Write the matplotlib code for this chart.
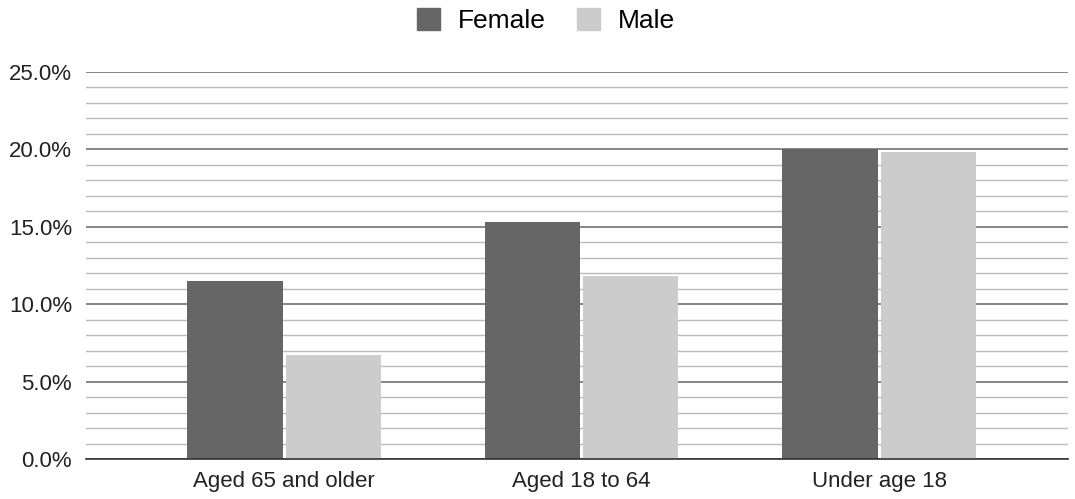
import matplotlib.pyplot as plt
from matplotlib.ticker import MultipleLocator, PercentFormatter
from matplotlib.patches import Patch
import numpy as np

plt.rcParams['font.family'] = ['Liberation Sans', 'DejaVu Sans']

categories = ["Aged 65 and older", "Aged 18 to 64", "Under age 18"]
female = [11.5, 15.3, 20.0]
male = [6.7, 11.8, 19.8]
series_names = ["Female", "Male"]
colors = ["#666666", "#cccccc"]

fig = plt.figure(figsize=(10.75, 4.99), dpi=100)
ax = fig.add_axes([0.08, 0.0802, 0.9135, 0.7755])

x = np.arange(len(categories))
w = 0.32
ax.bar(x - 0.165, female, w, color=colors[0], zorder=3)
ax.bar(x + 0.165, male, w, color=colors[1], zorder=3)

ax.set_ylim(0, 25)
ax.set_xlim(-0.666, 2.635)
ax.yaxis.set_major_locator(MultipleLocator(5))
ax.yaxis.set_minor_locator(MultipleLocator(1))
ax.yaxis.set_major_formatter(PercentFormatter(decimals=1))
ax.grid(axis="y", which="major", color="#666666", linewidth=1.1, zorder=0)
ax.grid(axis="y", which="minor", color="#bbbbbb", linewidth=1.0, zorder=0)

ax.set_xticks(x)
ax.set_xticklabels(categories)
ax.tick_params(axis="both", which="both", length=0, labelsize=16, colors="#222222")
ax.tick_params(axis="x", pad=9)
ax.tick_params(axis="y", pad=10)

for s in ["top", "right", "left"]:
    ax.spines[s].set_visible(False)
ax.spines["bottom"].set_color("#333333")
ax.spines["bottom"].set_linewidth(1.2)
ax.spines["bottom"].set_zorder(4)

handles = [Patch(color=c) for c in colors]
fig.legend(handles, series_names, loc="upper center", bbox_to_anchor=(0.508, 1.031),
           ncol=2, frameon=False, fontsize=19, handlelength=0.87, handleheight=0.87,
           columnspacing=1.2, handletextpad=0.67)

plt.savefig("out.png", dpi=100)
